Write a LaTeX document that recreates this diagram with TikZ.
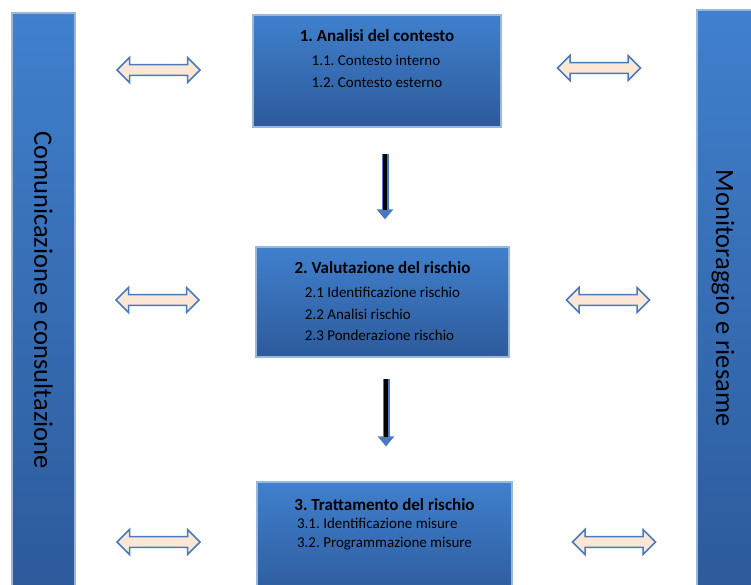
\documentclass[tikz,border=0pt]{standalone}
\usepackage{fontspec}
\setmainfont{Carlito}
\frenchspacing
\usetikzlibrary{positioning,shapes.arrows,arrows.meta}
\definecolor{boxtop}{RGB}{64,128,205}
\definecolor{boxbot}{RGB}{45,90,155}
\definecolor{boxline}{RGB}{155,183,218}
\definecolor{arrowblue}{RGB}{74,122,190}
\definecolor{peach}{RGB}{252,231,214}
\begin{document}
\begin{tikzpicture}[x=1pt,y=-1pt]
	\tikzstyle{phase}=[rectangle,draw=boxline,line width=1.2pt,top color=boxtop,bottom color=boxbot,inner sep=0pt]
	\tikzstyle{phasetext}=[align=center,inner sep=0pt,font=\fontsize{15}{21.5}\selectfont]
	\tikzstyle{bartext}=[rotate=-90,inner sep=0pt,font=\fontsize{26.5}{30}\selectfont]
	\tikzstyle{link}=[double arrow,draw=arrowblue,line width=1.5pt,fill=peach,inner sep=0pt,text height=4.5pt,text depth=4.5pt,minimum width=25pt,minimum height=83pt,double arrow head extend=7pt,double arrow tip angle=90]
	\tikzstyle{flowout}=[draw=arrowblue,line width=7pt,-{Triangle[width=16pt,length=10pt]}]
	\tikzstyle{flowin}=[draw=black,line width=4.5pt]
	\useasboundingbox (0,0) rectangle (751,584);
	\begin{scope}
		% side bars
		\node [phase,minimum width=63pt,minimum height=577pt] (ccbar) at (43.5,301.5) {};
		\node [phase,minimum width=63pt,minimum height=580pt] (mrbar) at (728.5,300) {};
		\node [bartext] (cctext) at (43.5,300) {Comunicazione e consultazione};
		\node [bartext] (mrtext) at (723,298) {Monitoraggio e riesame};
		% phases
		\node [phase,minimum width=248pt,minimum height=112pt] (box1) at (377,71) {};
		\node [phase,minimum width=253pt,minimum height=110pt] (box2) at (382.5,302) {};
		\node [phase,minimum width=255pt,minimum height=118pt] (box3) at (384.5,541) {};
		\node [phasetext,below=14.5pt of box1.north] (text1) {\textbf{\fontsize{17}{20}\selectfont 1. Analisi del contesto}\\[8.5pt]
			\begin{tabular}{@{}l@{}}1.1. Contesto interno\\1.2. Contesto esterno\end{tabular}};
		\node [phasetext,below=15pt of box2.north] (text2) {\textbf{\fontsize{17}{20}\selectfont 2. Valutazione del rischio}\\[8pt]
			\begin{tabular}{@{}l@{}}2.1 Identificazione rischio\\2.2 Analisi rischio\\2.3 Ponderazione rischio\end{tabular}};
		\node [phasetext,below=16.5pt of box3.north] (text3) {\textbf{\fontsize{17}{20}\selectfont 3. Trattamento del rischio}\\[4.5pt]
			\fontsize{15}{19}\selectfont\begin{tabular}{@{}l@{}}3.1. Identificazione misure\\3.2. Programmazione misure\end{tabular}};
		% links to the side bars
		\node [link] (cc1) at (158.5,70) {};
		\node [link] (cc2) at (157.5,300) {};
		\node [link] (cc3) at (158.5,542) {};
		\node [link] (mr1) at (599,68) {};
		\node [link] (mr2) at (608,300) {};
		\node [link] (mr3) at (614,542) {};
		% flow between phases
		\draw [flowout,shorten <=26pt,shorten >=27pt] ([xshift=8pt]box1.south) -- ([xshift=2.5pt]box2.north);
		\draw [flowin,shorten <=26.5pt,shorten >=36pt] ([xshift=8pt]box1.south) -- ([xshift=2.5pt]box2.north);
		\draw [flowout,shorten <=21pt,shorten >=35pt] ([xshift=3.5pt]box2.south) -- ([xshift=1.5pt]box3.north);
		\draw [flowin,shorten <=21.5pt,shorten >=44pt] ([xshift=3.5pt]box2.south) -- ([xshift=1.5pt]box3.north);
	\end{scope}
\end{tikzpicture}
\end{document}
